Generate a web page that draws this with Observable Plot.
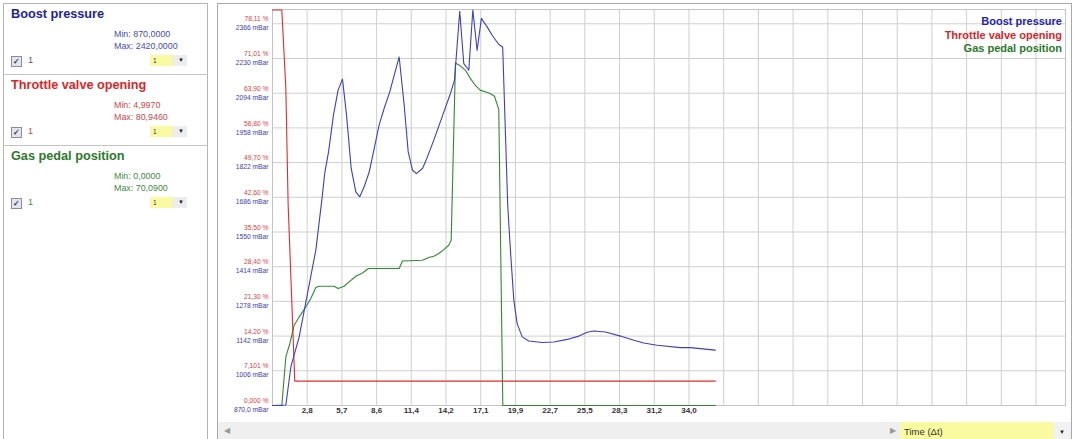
<!DOCTYPE html>
<html><head><meta charset="utf-8">
<script src="https://cdn.jsdelivr.net/npm/d3@7"></script>
<script src="https://cdn.jsdelivr.net/npm/@observablehq/plot@0.6"></script>
<style>
body{margin:0;width:1074px;height:439px;position:relative;overflow:hidden;background:#fff;font-family:"Liberation Sans",Arial,sans-serif;}
.a{position:absolute;white-space:nowrap;}
#side{position:absolute;left:3px;top:3px;width:205px;height:440px;border:1px solid #b4b4b4;box-sizing:border-box;}
#panel{position:absolute;left:217px;top:3px;width:855px;height:440px;border:1px solid #a8a8a8;box-sizing:border-box;}
#chart{position:absolute;left:217px;top:0px;}
.sep{position:absolute;left:3px;width:205px;height:1px;background:#c4c4c4;}
.cb{position:absolute;width:9px;height:9px;border:1px solid #8c8c9c;background:#e2e4ee;font-size:8px;line-height:9px;text-align:center;color:#334;font-weight:bold;}
.yel{position:absolute;background:#fafaa2;}
.gr{position:absolute;background:#ededed;}
</style></head><body>
<div id="side"></div>
<div id="panel"></div>
<div id="chart"></div>
<script>
// ---- series meta ----
const seriesNames = ["Boost pressure", "Throttle valve opening", "Gas pedal position"];
const seriesMin = ["870,0000", "4,9970", "0,0000"];
const seriesMax = ["2420,0000", "80,9460", "70,0900"];
const titleColors = ["#1e1e9e", "#dc2626", "#2a7a2a"];
const infoColors = ["#4a4ab4", "#cc4a4a", "#3f8a3f"];
const legendColors = ["#2222bb", "#dc2626", "#2a7a2a"];
const lineColors = ["#3e3ec8", "#e22a2a", "#2f8a2f"];

// ---- Boost pressure (mBar) ----
const boostT = [0, 1.09, 1.50, 2.18, 3.54, 4.03, 4.28, 4.58, 4.98, 5.36, 5.72, 6.05, 6.43, 6.81, 7.13, 7.49, 7.90, 8.31, 8.71, 9.12, 9.58, 10.35, 10.76, 11.09, 11.44, 11.76, 12.25, 12.5, 13.18, 13.86, 14.54, 14.87, 15.30, 15.63, 16.04, 16.37, 16.72, 17.07, 17.54, 17.95, 18.49, 18.81, 19.22, 19.44, 19.72, 19.99, 20.40, 20.94, 22.03, 22.98, 24.08, 25.03, 25.71, 26.25, 27.2, 28.43, 29.52, 30.34, 31.43, 33.33, 34.15, 36.19];
const boostV = [870, 872, 1021, 1139, 1479, 1675, 1785, 1864, 2008, 2106, 2149, 2008, 1799, 1707, 1688, 1727, 1785, 1877, 1969, 2034, 2099, 2236, 2047, 1864, 1792, 1779, 1799, 1825, 1910, 2001, 2093, 2145, 2415, 2210, 2184, 2420, 2262, 2387, 2354, 2321, 2285, 2275, 1655, 1479, 1283, 1191, 1139, 1123, 1117, 1119, 1129, 1142, 1157, 1162, 1158, 1142, 1126, 1115, 1106, 1097, 1097, 1087];

// ---- Throttle valve opening (%) ----
const throttleT = [0, 0.76, 1.09, 1.28, 1.82, 36.19];
const throttleV = [80.946, 80.946, 64.9, 41.0, 4.997, 4.997];

// ---- Gas pedal position (%) ----
const pedalT = [0, 0.76, 1.09, 1.42, 1.77, 2.18, 2.72, 3.13, 3.54, 3.81, 5.04, 5.36, 5.85, 6.26, 6.81, 7.35, 7.84, 10.35, 10.62, 12.25, 12.77, 13.18, 13.59, 14.0, 14.4, 14.6, 14.95, 15.30, 15.77, 16.18, 16.58, 16.99, 17.4, 17.81, 18.14, 18.49, 18.82, 36.19];
const pedalV = [0, 0, 9.94, 12.69, 16.43, 18.13, 20.17, 21.89, 24.14, 24.41, 24.41, 23.94, 24.41, 25.29, 26.45, 27.13, 28.03, 28.03, 29.59, 29.73, 30.28, 30.55, 31.1, 31.9, 32.8, 33.8, 70.09, 69.6, 68.6, 66.9, 65.5, 64.5, 64.2, 63.8, 63.3, 60.6, 0, 0];

// ---- axes ----
const yTicks = [870, 1006, 1142, 1278, 1414, 1550, 1686, 1822, 1958, 2094, 2230, 2366];
const mbarLabels = ["870,0 mBar", "1006 mBar", "1142 mBar", "1278 mBar", "1414 mBar", "1550 mBar", "1686 mBar", "1822 mBar", "1958 mBar", "2094 mBar", "2230 mBar", "2366 mBar"];
const pctLabels = ["0,000 %", "7,101 %", "14,20 %", "21,30 %", "28,40 %", "35,50 %", "42,60 %", "49,70 %", "56,80 %", "63,90 %", "71,01 %", "78,11 %"];
const xLabelVals = [2.836, 5.672, 8.508, 11.344, 14.18, 17.016, 19.852, 22.688, 25.524, 28.36, 31.196, 34.032];
const xLabels = ["2,8", "5,7", "8,6", "11,4", "14,2", "17,1", "19,9", "22,7", "25,5", "28,3", "31,2", "34,0"];
const gridX = [2.836, 5.672, 8.508, 11.344, 14.18, 17.016, 19.852, 22.688, 25.524, 28.36, 31.196, 34.032, 36.868, 39.704, 42.54, 45.376, 48.212, 51.048, 53.884, 56.72, 59.556, 62.392];

// percent -> mBar axis (0 % = 870 mBar, 80.946 % = 2420 mBar)
const toMbar = p => 870 + p * (2420 - 870) / 80.946;

const rows = [];
boostT.forEach((t, i) => rows.push({t, y: boostV[i], s: seriesNames[0]}));
throttleT.forEach((t, i) => rows.push({t, y: toMbar(throttleV[i]), s: seriesNames[1]}));
pedalT.forEach((t, i) => rows.push({t, y: toMbar(pedalV[i]), s: seriesNames[2]}));

const chart = Plot.plot({
  width: 855, height: 422,
  marginLeft: 55, marginRight: 7, marginTop: 9, marginBottom: 17,
  x: {domain: [0, 64.8], axis: null},
  y: {domain: [870, 2422], axis: null},
  color: {domain: seriesNames, range: lineColors},
  style: {fontFamily: "Liberation Sans, Arial, sans-serif", background: "transparent", overflow: "visible"},
  marks: [
    Plot.ruleX(gridX, {x: d => d, stroke: "#cfcfcf"}),
    Plot.ruleY(yTicks, {y: d => d, stroke: "#cfcfcf"}),
    Plot.frame({stroke: "#c4c4c4"}),
    Plot.line(rows.filter(d => d.s === seriesNames[2]), {x: "t", y: "y", stroke: "s", strokeWidth: 1.1}),
    Plot.line(rows.filter(d => d.s === seriesNames[1]), {x: "t", y: "y", stroke: "s", strokeWidth: 1.1}),
    Plot.line(rows.filter(d => d.s === seriesNames[0]), {x: "t", y: "y", stroke: "s", strokeWidth: 1.1}),
    Plot.text(yTicks, {y: d => d, frameAnchor: "left", textAnchor: "end", dx: -4, dy: -4.5, text: (d, i) => pctLabels[i], fill: "#d84040", fontSize: 6.7}),
    Plot.text(yTicks, {y: d => d, frameAnchor: "left", textAnchor: "end", dx: -4, dy: 4.5, text: (d, i) => mbarLabels[i], fill: "#3a3ab8", fontSize: 6.7}),
    Plot.text(xLabelVals, {x: d => d, frameAnchor: "bottom", dy: 7, text: (d, i) => xLabels[i], fill: "#333", fontWeight: "bold", fontSize: 8})
  ]
});
document.getElementById("chart").appendChild(chart);

// ---- sidebar ----
const body = document.body;
function el(cls, css, html) {
  const d = document.createElement("div");
  d.className = cls; d.style.cssText = css; if (html !== undefined) d.innerHTML = html;
  body.appendChild(d); return d;
}
const secTops = [3, 74, 144.5];
seriesNames.forEach((name, i) => {
  const T = secTops[i];
  if (i > 0) el("sep", `top:${T}px;`);
  el("a", `left:11px;top:${T + 4}px;font-size:12.7px;line-height:15px;font-weight:bold;color:${titleColors[i]};`, name);
  el("a", `left:114px;top:${T + 26}px;font-size:8.9px;line-height:10px;color:${infoColors[i]};`, "Min: " + seriesMin[i]);
  el("a", `left:114px;top:${T + 38}px;font-size:8.9px;line-height:10px;color:${infoColors[i]};`, "Max: " + seriesMax[i]);
  el("cb", `left:11px;top:${T + 53}px;`, "&#10003;");
  el("a", `left:28px;top:${T + 52}px;font-size:9px;line-height:11px;color:${infoColors[i]};`, "1");
  el("yel", `left:150px;top:${T + 52}px;width:22px;height:11px;`);
  el("a", `left:153px;top:${T + 52}px;font-size:6.5px;line-height:11px;color:#333;`, "1");
  el("gr", `left:172px;top:${T + 52}px;width:15px;height:11px;`);
  el("a", `left:178px;top:${T + 52}px;font-size:6px;line-height:11px;color:#222;`, "&#9660;");
});

// ---- legend in chart ----
seriesNames.forEach((name, i) => {
  el("a", `right:${1074 - 1062}px;top:${15 + i * 13.7}px;font-size:11px;line-height:13px;font-weight:bold;color:${legendColors[i]};text-align:right;`, name);
});

// ---- bottom scroll bar ----
el("gr", "left:218px;top:422px;width:682px;height:17px;background:#efefef;");
el("a", "left:224px;top:424px;font-size:8px;line-height:14px;color:#9a9a9a;", "&#9664;");
el("a", "left:890px;top:424px;font-size:8px;line-height:14px;color:#9a9a9a;", "&#9654;");
el("yel", "left:900px;top:422px;width:153px;height:17px;background:#fafaa0;");
el("a", "left:904px;top:425px;font-size:9.5px;line-height:14px;color:#333;", "Time (&Delta;t)");
el("gr", "left:1053px;top:422px;width:18px;height:17px;background:#f2f2f2;");
el("a", "left:1059px;top:425px;font-size:6px;line-height:14px;color:#222;", "&#9660;");
</script>
</body></html>
